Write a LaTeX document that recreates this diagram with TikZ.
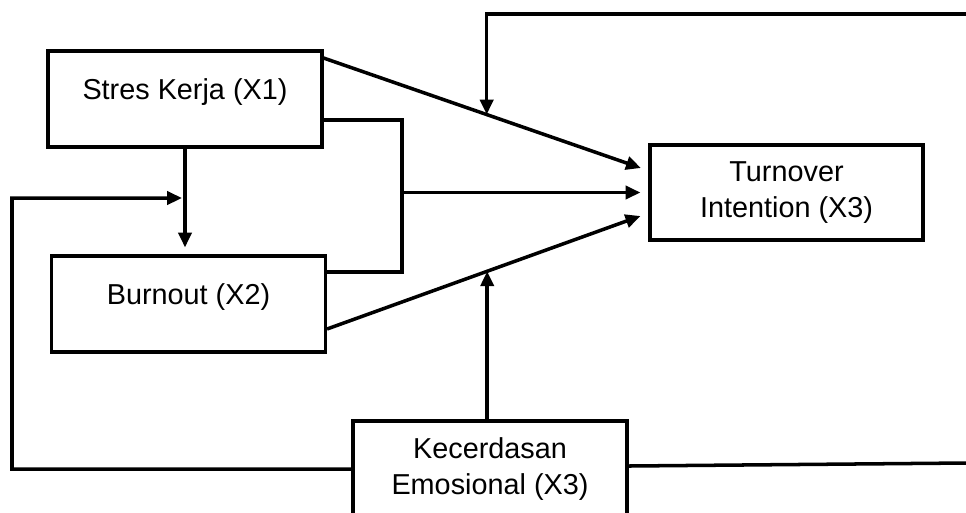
\documentclass[tikz,border=0pt]{standalone}
\usepackage{fontspec}
\setmainfont{Liberation Sans}
\usetikzlibrary{arrows.meta}

\begin{document}
\begin{tikzpicture}
[x=0.02cm,y=-0.02cm,
  lineDecorate/.style={line width=2pt},%
  arrowDecorate/.style={lineDecorate,-{Triangle[length=8.5pt,width=7.5pt]}},
  boxDecorate/.style={shape=rectangle,draw,line width=1.8pt,inner sep=0pt,
    minimum width=5.48cm,minimum height=1.92cm,align=center,
    font=\fontsize{16.4}{20}\selectfont},
  oneLine/.style={text height=8pt,text depth=8pt}]
\useasboundingbox (0,0) rectangle (966,512);
%% nodes or boxes
\node (stres) at (185,99) [boxDecorate,oneLine] {Stres Kerja (X1)};
\node (burnout) at (188.5,304) [boxDecorate,oneLine] {Burnout (X2)};
\node (turnover) at (786.5,192.5) [boxDecorate,minimum width=5.46cm,minimum height=1.9cm] {Turnover\\Intention (X3)};
\node (emosi) at (490,469) [boxDecorate] {Kecerdasan\\Emosional (X3)};
%% free ends
\coordinate (topRight) at (966,14);
\coordinate (botRight) at (966,463);
\coordinate (leftTurn) at (12,198);
\coordinate (bus) at (402,192.5);
%% direct paths
\draw[arrowDecorate] ([yshift=0.82cm]stres.east)
  -- coordinate[pos=0.514] (onTop) ([xshift=-0.15cm,yshift=0.49cm]turnover.west);
\draw[arrowDecorate] ([yshift=-0.5cm]burnout.east)
  -- coordinate[pos=0.511] (onBot) ([xshift=-0.16cm,yshift=-0.47cm]turnover.west);
\draw[arrowDecorate] (stres.south)
  -- coordinate[pos=0.5] (onDown) ([yshift=0.14cm]stres.south |- burnout.north);
%% joint path
\draw[lineDecorate] ([yshift=-0.42cm]stres.east) -| (bus) |- ([yshift=0.64cm]burnout.east);
\draw[arrowDecorate] (bus) -- ([xshift=-0.16cm]turnover.west);
%% moderator
\draw[arrowDecorate] (topRight) -| (onTop);
\draw[arrowDecorate] (emosi.north -| onBot) -- (onBot);
\draw[arrowDecorate] (emosi.west) -| (leftTurn) -- ([xshift=-0.06cm]onDown);
\draw[lineDecorate] ([yshift=0.06cm]emosi.east) -- (botRight);
\end{tikzpicture}
\end{document}
